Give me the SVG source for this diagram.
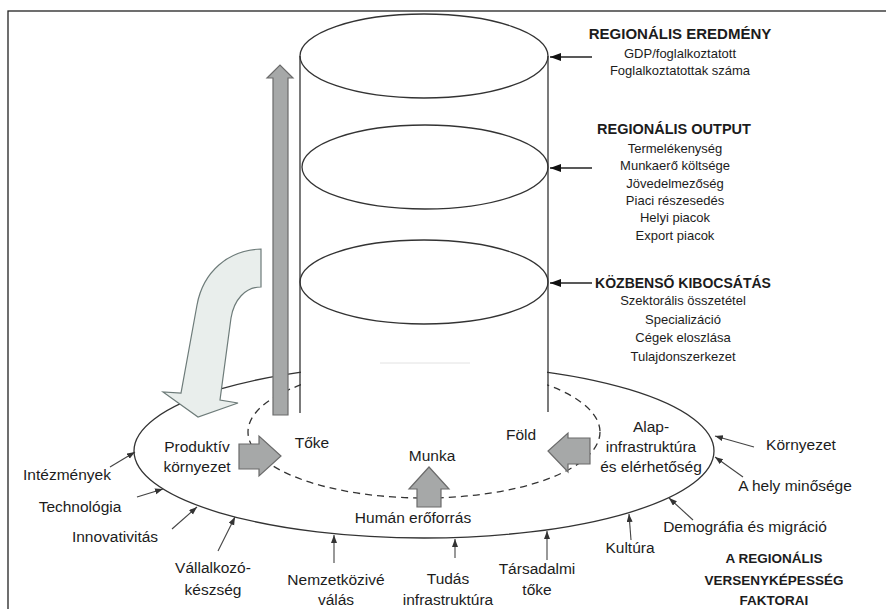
<svg xmlns="http://www.w3.org/2000/svg" width="886" height="609" viewBox="0 0 886 609">
<style>
.ln{fill:none;stroke:#333;stroke-width:1.3}
.dash{stroke-dasharray:7 5}
.t{font-family:"Liberation Sans",Arial,sans-serif;fill:#1c1c1c;text-anchor:middle}
.s13{font-size:13px}
.s15{font-size:15.5px}
.b{font-weight:bold}
.blk{fill:#a6a8a8;stroke:#6b6b6b;stroke-width:1.2;stroke-linejoin:miter}
.con{fill:none;stroke:#222;stroke-width:1.3}
.con2{fill:none;stroke:#444;stroke-width:1.1}
</style>
<defs>
<marker id="ah" markerUnits="userSpaceOnUse" markerWidth="12" markerHeight="10" refX="11" refY="4" orient="auto">
<path d="M0,0 L11,4 L0,8 Z" fill="#111"/>
</marker>
<marker id="sh" markerUnits="userSpaceOnUse" markerWidth="9" markerHeight="8" refX="8" refY="3" orient="auto">
<path d="M0,0 L8,3 L0,6 Z" fill="#333"/>
</marker>
</defs>
<rect x="8" y="11" width="900" height="620" fill="#fff" stroke="#222" stroke-width="1.3"/>

<g id="base">
<ellipse class="ln" cx="424" cy="451" rx="290" ry="87"/>
<ellipse class="ln dash" cx="424" cy="432" rx="176" ry="66"/>
<rect x="301" y="327" width="246" height="86" fill="#fff"/>
<line x1="380" y1="363" x2="470" y2="363" stroke="#e2e2e2" stroke-width="1"/>
</g>

<g id="cylinder">
<line class="ln" x1="300" y1="56" x2="300" y2="413"/>
<line class="ln" x1="548" y1="56" x2="548" y2="412"/>
<ellipse class="ln" cx="424" cy="56" rx="124" ry="42"/>
<ellipse class="ln" cx="425" cy="167" rx="123" ry="42"/>
<ellipse class="ln" cx="424" cy="282" rx="124" ry="42"/>
</g>

<g id="feedback-arrow">
<path d="M261,249 C228,250 203,272 197,305 L181,393 L163,392 L198,417 L238,403 L220,400 L231,318 C234,300 245,287 261,287 Z" fill="#e9eeec" stroke="#6d7b79" stroke-width="1.2"/>
</g>

<g id="up-arrow">
<path class="blk" d="M273,415 L273,78 L267,78 L280,65 L293,78 L288,78 L288,415 Z"/>
</g>

<g id="block-arrows">
<path class="blk" d="M239,444 L259,444 L259,436 L281,456 L259,476 L259,469 L239,469 Z"/>
<path class="blk" d="M417,507 L417,489 L409,489 L429,467 L449,489 L441,489 L441,507 Z"/>
<path class="blk" d="M590,438 L568,438 L568,433 L548,451 L568,472 L568,464 L590,464 Z"/>
</g>

<g id="connectors">
<line class="con" x1="592" y1="57" x2="550" y2="57" marker-end="url(#ah)"/>
<line class="con" x1="592" y1="168" x2="550" y2="168" marker-end="url(#ah)"/>
<line class="con" x1="592" y1="283" x2="550" y2="283" marker-end="url(#ah)"/>
<line class="con2" x1="110" y1="467" x2="135" y2="452" marker-end="url(#sh)"/>
<line class="con2" x1="137" y1="497" x2="163" y2="489" marker-end="url(#sh)"/>
<line class="con2" x1="172" y1="529" x2="197" y2="507" marker-end="url(#sh)"/>
<line class="con2" x1="218" y1="551" x2="235" y2="517" marker-end="url(#sh)"/>
<line class="con2" x1="334" y1="563" x2="334" y2="535" marker-end="url(#sh)"/>
<line class="con2" x1="455" y1="558" x2="455" y2="539" marker-end="url(#sh)"/>
<line class="con2" x1="547" y1="560" x2="547" y2="531" marker-end="url(#sh)"/>
<line class="con2" x1="631" y1="540" x2="629" y2="514" marker-end="url(#sh)"/>
<line class="con2" x1="693" y1="520" x2="669" y2="498" marker-end="url(#sh)"/>
<line class="con2" x1="743" y1="477" x2="715" y2="457" marker-end="url(#sh)"/>
<line class="con2" x1="754" y1="447" x2="715" y2="436" marker-end="url(#sh)"/>
</g>

<g id="regionalis-eredmeny" class="t">
<text class="b" x="680" y="39" font-size="15">REGIONÁLIS EREDMÉNY</text>
<text class="s13" x="680" y="58">GDP/foglalkoztatott</text>
<text class="s13" x="680" y="75">Foglalkoztatottak száma</text>
</g>
<g id="regionalis-output" class="t">
<text class="b" x="674" y="134" font-size="14.5">REGIONÁLIS OUTPUT</text>
<text class="s13" x="675" y="153">Termelékenység</text>
<text class="s13" x="675" y="170">Munkaerő költsége</text>
<text class="s13" x="675" y="188">Jövedelmezőség</text>
<text class="s13" x="675" y="205">Piaci részesedés</text>
<text class="s13" x="675" y="222">Helyi piacok</text>
<text class="s13" x="675" y="240">Export piacok</text>
</g>
<g id="kozbenso-kibocsatas" class="t">
<text class="b" x="683" y="288" font-size="14">KÖZBENSŐ KIBOCSÁTÁS</text>
<text class="s13" x="683" y="305">Szektorális összetétel</text>
<text class="s13" x="683" y="324">Specializáció</text>
<text class="s13" x="683" y="342">Cégek eloszlása</text>
<text class="s13" x="683" y="361">Tulajdonszerkezet</text>
</g>

<g id="produktiv" class="t s15">
<text x="197" y="452">Produktív</text>
<text x="197" y="472">környezet</text>
</g>
<g id="toke" class="t s15"><text x="312" y="448">Tőke</text></g>
<g id="munka" class="t s15"><text x="432" y="461">Munka</text></g>
<g id="fold" class="t s15"><text x="521" y="440">Föld</text></g>
<g id="human" class="t s15"><text x="413" y="523">Humán erőforrás</text></g>
<g id="alap" class="t s15">
<text x="651" y="432">Alap-</text>
<text x="651" y="452">infrastruktúra</text>
<text x="651" y="472">és elérhetőség</text>
</g>
<g id="kornyezet" class="t s15"><text x="801" y="450">Környezet</text></g>
<g id="hely" class="t s15"><text x="795" y="491">A hely minősége</text></g>
<g id="demografia" class="t s15"><text x="745" y="532">Demográfia és migráció</text></g>
<g id="kultura" class="t s15"><text x="630" y="553">Kultúra</text></g>
<g id="tarsadalmi" class="t s15">
<text x="537" y="574">Társadalmi</text>
<text x="537" y="595">tőke</text>
</g>
<g id="tudas" class="t s15">
<text x="448" y="584">Tudás</text>
<text x="448" y="605">infrastruktúra</text>
</g>
<g id="nemzetkozive" class="t s15">
<text x="336" y="585">Nemzetközivé</text>
<text x="336" y="605">válás</text>
</g>
<g id="vallalkozo" class="t s15">
<text x="213" y="573">Vállalkozó-</text>
<text x="213" y="595">készség</text>
</g>
<g id="intezmenyek" class="t s15"><text x="67" y="480">Intézmények</text></g>
<g id="technologia" class="t s15"><text x="80" y="512">Technológia</text></g>
<g id="innovativitas" class="t s15"><text x="115" y="542">Innovativitás</text></g>
<g id="faktorai" class="t b" font-size="13.5">
<text x="774" y="563">A REGIONÁLIS</text>
<text x="774" y="585">VERSENYKÉPESSÉG</text>
<text x="774" y="605">FAKTORAI</text>
</g>
</svg>
